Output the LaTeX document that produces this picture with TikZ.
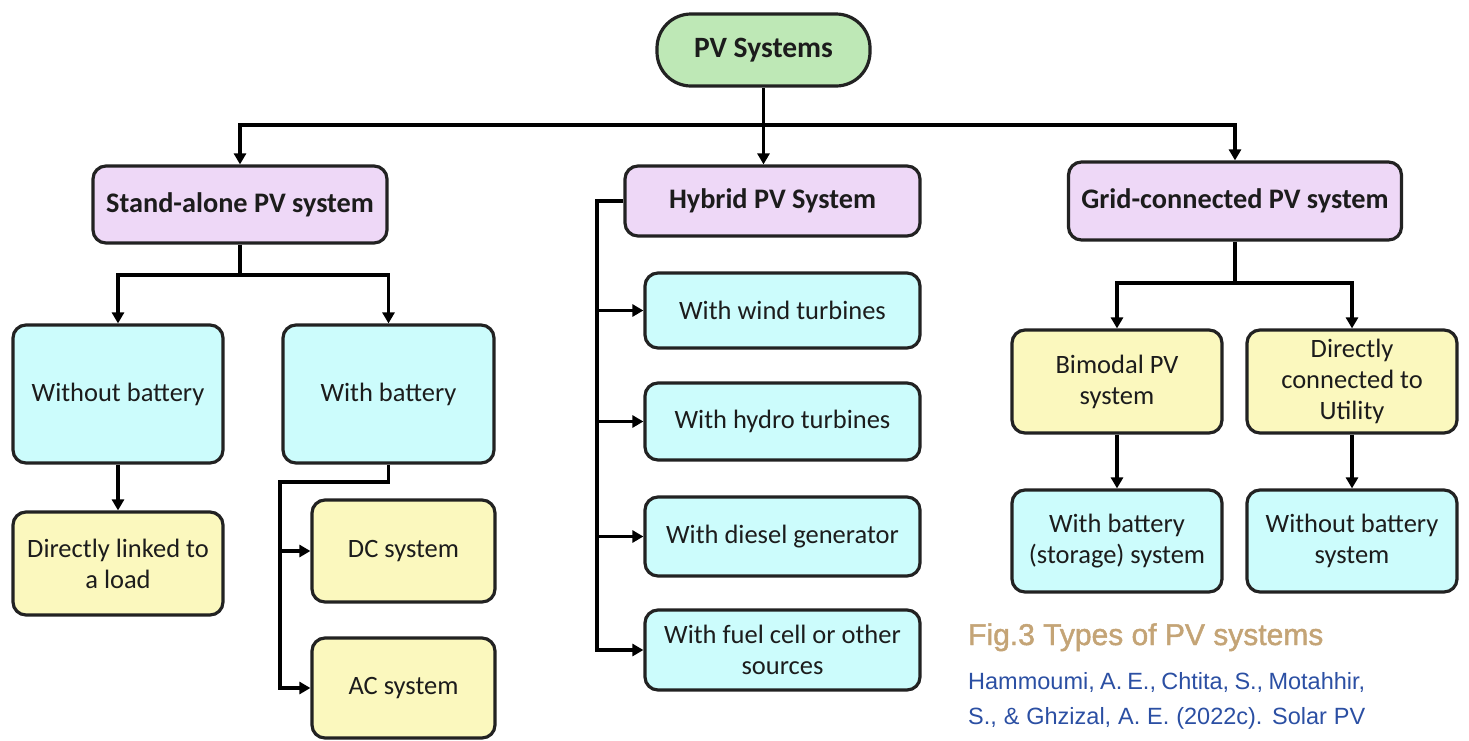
\documentclass[tikz,border=0pt]{standalone}
\usepackage{fontspec}
\setmainfont{Carlito}
\newfontfamily\capfont{Liberation Sans}
\newfontfamily\capfontmed[FakeBold=1.5]{Liberation Sans}
\usetikzlibrary{arrows.meta,calc}

\definecolor{edge}{HTML}{222222}
\definecolor{ink}{HTML}{1C1C1C}
\definecolor{rootfill}{HTML}{BEE8B6}
\definecolor{catfill}{HTML}{EED8F7}
\definecolor{cyanfill}{HTML}{CCFCFC}
\definecolor{yelfill}{HTML}{FBF8BE}
\definecolor{captan}{HTML}{C4A476}
\definecolor{citeblue}{HTML}{2B4FA3}

\begin{document}
\begin{tikzpicture}[x=1pt,y=-1pt,
  box/.style={draw=edge, line width=3.2pt, rounded corners=13pt, align=center,
    text=ink, inner sep=0pt, font=\fontsize{26.5}{31}\selectfont},
  catbox/.style={box, fill=catfill, font=\fontsize{28.3}{33}\selectfont\bfseries},
  cyanbox/.style={box, fill=cyanfill},
  yelbox/.style={box, fill=yelfill},
  conn/.style={draw=black, line width=3.8pt, line join=miter},
  arr/.style={conn, -{Triangle[length=11pt,width=12pt]}}
]
\useasboundingbox (0,0) rectangle (1469,740);

% root
\node[box, fill=rootfill, rounded corners=34pt, minimum width=213pt, minimum height=72pt,
  font=\fontsize{29.5}{34}\selectfont\bfseries] (root) at (763.5,50) {PV Systems};

% three system families
\node[catbox, minimum width=294pt, minimum height=77pt] (sa) at (240,204.5) {Stand-alone PV system};
\node[catbox, minimum width=295pt, minimum height=70pt] (hyb) at (772.5,201) {Hybrid PV System};
\node[catbox, minimum width=333pt, minimum height=78pt] (grid) at (1235,201) {Grid-connected PV system};

% stand-alone branch
\node[cyanbox, minimum width=210pt, minimum height=138pt] (wob) at (118,394) {Without battery};
\node[cyanbox, minimum width=211pt, minimum height=138pt] (wb) at (388.5,394) {With battery};
\node[yelbox, minimum width=210pt, minimum height=103pt] (dl) at (118,563.5) {Directly linked to\\a load};
\node[yelbox, minimum width=183pt, minimum height=102pt] (dc) at (403.5,551) {DC system};
\node[yelbox, minimum width=183pt, minimum height=100pt] (ac) at (403.5,688) {AC system};

% hybrid branch
\node[cyanbox, minimum width=275pt, minimum height=75pt] (wind) at (782.5,310.5) {With wind turbines};
\node[cyanbox, minimum width=275pt, minimum height=77pt] (hydro) at (782.5,421.5) {With hydro turbines};
\node[cyanbox, minimum width=275pt, minimum height=79pt] (diesel) at (782.5,536.5) {With diesel generator};
\node[cyanbox, minimum width=275pt, minimum height=80pt] (fuel) at (782.5,650) {With fuel cell or other\\sources};

% grid-connected branch
\node[yelbox, minimum width=210pt, minimum height=103pt] (bim) at (1117,381.5) {Bimodal PV\\system};
\node[yelbox, minimum width=210pt, minimum height=103pt] (dcu) at (1352,381.5) {Directly\\connected to\\Utility};
\node[cyanbox, minimum width=210pt, minimum height=102pt] (wbs) at (1117,541) {With battery\\(storage) system};
\node[cyanbox, minimum width=210pt, minimum height=102pt] (wobs) at (1352,541) {Without battery\\system};

% junction points
\coordinate (bus) at (763.5,125);
\coordinate (saj) at (240,275);
\coordinate (wbj) at (280,482);
\coordinate (hj) at (597,201);
\coordinate (gj) at (1235,283);

% connectors
\draw[arr] (root.south) -- (root.south |- hyb.north);
\draw[arr] (bus) -| (sa.north);
\draw[arr] (bus) -| (grid.north);

\draw[arr] (sa.south) -- (saj) -| (wob.north);
\draw[arr] (saj) -| (wb.north);
\draw[arr] (wob.south) -- (dl.north);
\draw[arr] (wb.south) |- (wbj) |- (ac.west);
\draw[arr] (wbj) |- (dc.west);

\draw[arr] (hyb.west) -- (hj) |- (fuel.west);
\draw[arr] (hj) |- (wind.west);
\draw[arr] (hj) |- (hydro.west);
\draw[arr] (hj) |- (diesel.west);

\draw[arr] (grid.south) -- (gj) -| (bim.north);
\draw[arr] (gj) -| (dcu.north);
\draw[arr] (bim.south) -- (wbs.north);
\draw[arr] (dcu.south) -- (wobs.north);

% caption and reference
\node[anchor=base west, inner sep=0pt, text=captan, font=\capfontmed\fontsize{30}{35}\selectfont]
  (cap) at (968,645) {Fig.3 Types of PV systems};
\node[anchor=base west, inner sep=0pt, text=citeblue, font=\capfont\fontsize{23.5}{28}\selectfont]
  (ref1) at (968,689) {\makebox[397pt][s]{Hammoumi, A. E., Chtita, S., Motahhir,}};
\node[anchor=base west, inner sep=0pt, text=citeblue, font=\capfont\fontsize{23.5}{28}\selectfont]
  (ref2) at (968,724) {\makebox[397pt][s]{S., \& Ghzizal, A. E. (2022c). Solar PV}};
\end{tikzpicture}
\end{document}
